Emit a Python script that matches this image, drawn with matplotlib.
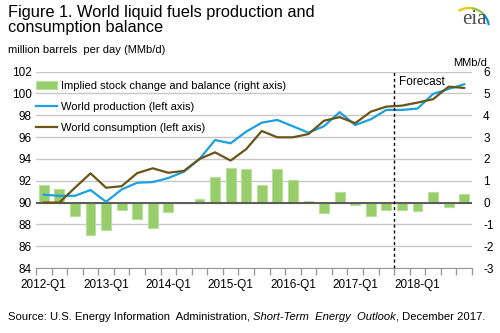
import numpy as np
import matplotlib
matplotlib.use('Agg')
import matplotlib.pyplot as plt
from matplotlib.patches import Arc

plt.rcParams['font.family'] = ['Liberation Sans', 'DejaVu Sans']
plt.rcParams['axes.unicode_minus'] = False

# quarterly data, 2012-Q1 .. 2018-Q4
quarters = [f'{y}-Q{q}' for y in range(2012, 2019) for q in range(1, 5)]
production = [90.72, 90.62, 90.62, 91.15, 90.07, 91.2, 91.82, 91.88, 92.25, 92.83,
              93.99, 95.73, 95.43, 96.5, 97.32, 97.57, 96.99, 96.4, 97.0, 98.29,
              97.1, 97.63, 98.49, 98.49, 98.61, 99.95, 100.41, 100.84]
consumption = [90.0, 90.0, 91.36, 92.68, 91.36, 91.5, 92.7, 93.14, 92.73, 92.9,
               94.0, 94.6, 93.85, 94.9, 96.56, 95.98, 95.98, 96.28, 97.5, 97.83,
               97.27, 98.33, 98.79, 98.88, 99.16, 99.47, 100.62, 100.5]
balance = [0.79, 0.61, -0.61, -1.48, -1.25, -0.34, -0.77, -1.18, -0.41, 0.04,
           0.17, 1.17, 1.6, 1.55, 0.81, 1.56, 1.05, 0.08, -0.49, 0.5,
           -0.12, -0.63, -0.33, -0.33, -0.38, 0.5, -0.22, 0.38]
label_quarters = ['2012-Q1', '2013-Q1', '2014-Q1', '2015-Q1', '2016-Q1', '2017-Q1', '2018-Q1']
forecast_start = '2017-Q4'

green = '#97CD6A'
blue = '#1BA0E0'
brown = '#6A5519'
grey = '#C8C8C8'

x = np.arange(len(quarters))

fig = plt.figure(figsize=(5, 3.33), dpi=100)
ax = fig.add_axes([0.072, 0.195, 0.872, 0.59])   # bars, right scale
ax2 = ax.twinx()                                   # lines, left scale

bars = ax.bar(x, balance, width=0.64, color=green, edgecolor='#B8E09A', linewidth=0.8,
              zorder=2, label='Implied stock change and balance (right axis)')
ax.axhline(0, color='#5A5A5A', lw=1.4, zorder=3)
ax.set_ylim(-3, 6)
ax.set_yticks(range(-3, 7))
ax.set_axisbelow(True)
ax.grid(axis='y', color=grey, lw=1)
ax.yaxis.tick_right()

lp, = ax2.plot(x, production, color=blue, lw=1.6, label='World production (left axis)')
lc, = ax2.plot(x, consumption, color=brown, lw=1.6, label='World consumption (left axis)')
ax2.set_ylim(84, 102)
ax2.set_yticks(range(84, 103, 2))
ax2.yaxis.tick_left()

fx = quarters.index(forecast_start) - 0.5
ax2.axvline(fx, color='black', lw=1, ls=(0, (2.2, 2)))
ax2.text(fx + 0.3, 101.6, 'Forecast', fontsize=8.5, va='top', ha='left')

ax.set_xlim(-0.5, len(quarters) - 0.5)
ax.set_xticks([quarters.index(q) for q in label_quarters])
ax.set_xticklabels(label_quarters)
ax.set_xticks(np.arange(-0.5, len(quarters)), minor=True)
ax.tick_params(axis='x', which='major', length=0, pad=8, labelsize=8.5)
ax.tick_params(axis='x', which='minor', length=5, color='#999999', width=1)
ax.tick_params(axis='y', length=0, labelsize=8.5, pad=8)
ax2.tick_params(axis='y', length=0, labelsize=8.5, pad=3)

for a in (ax, ax2):
    for s in ('top', 'left', 'right'):
        a.spines[s].set_visible(False)
    a.spines['bottom'].set_color('#999999')
ax2.spines['bottom'].set_visible(False)

ax2.legend([bars, lp, lc], [bars.get_label(), lp.get_label(), lc.get_label()],
           loc='upper left', bbox_to_anchor=(-0.01, 0.975), frameon=False, fontsize=8,
           handlelength=1.9, handletextpad=0.35, labelspacing=1.0, borderaxespad=0)

fig.text(0.016, 0.985, 'Figure 1. World liquid fuels production and\nconsumption balance',
         fontsize=11.8, va='top', ha='left', linespacing=0.98)
fig.text(0.016, 0.865, 'million barrels  per day (MMb/d)', fontsize=8, va='top', ha='left')
fig.text(0.975, 0.825, 'MMb/d', fontsize=8, va='top', ha='right')

# eia logo
fig.text(0.948, 0.94, 'eia', fontsize=15, family='Liberation Serif', color='#4D4D4D',
         ha='center', va='center')
rad = 20
for t1, t2, c in [(82, 112, '#F2C500'), (52, 84, '#8DC63F'), (12, 54, '#0096D7')]:
    fig.add_artist(Arc((469 / 500, 1 - 28 / 333), 2 * rad / 500, 2 * rad / 333,
                       theta1=t1, theta2=t2, transform=fig.transFigure, color=c, lw=1.6))

# source line with italic title
fig.canvas.draw()
r = fig.canvas.get_renderer()
t1 = fig.text(0.016, 0.04, 'Source: U.S. Energy Information  Administration, ', fontsize=8.1)
bb = t1.get_window_extent(r)
t2 = fig.text(bb.x1 / 500, 0.04, 'Short-Term  Energy  Outlook', fontsize=8.1, style='italic')
bb = t2.get_window_extent(r)
fig.text(bb.x1 / 500, 0.04, ', December 2017.', fontsize=8.1)

fig.savefig('out.png', dpi=100)
